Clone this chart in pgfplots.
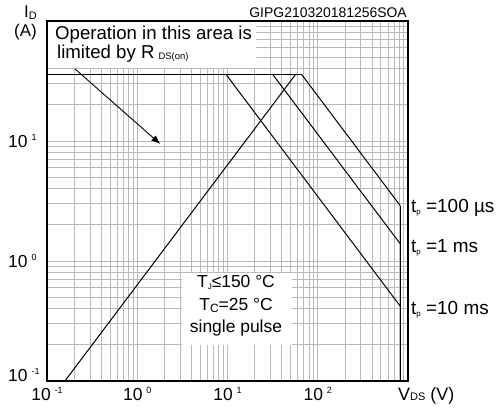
\documentclass[border=0pt]{standalone}
\usepackage{fontspec}
\setmainfont{Liberation Sans}
\usepackage{pgfplots}
\pgfplotsset{compat=1.18}
\usetikzlibrary{arrows.meta}
\newcommand{\fs}[1]{\fontsize{#1}{#1}\selectfont}
\newcommand{\tl}[1]{{\fs{17.5}10}\hspace{4bp}\raisebox{6.5bp}{\fs{9}#1}}
\begin{document}
\begin{tikzpicture}
\useasboundingbox (0,0) rectangle (498bp,408bp);
\begin{axis}[
  at={(47bp,27bp)}, anchor=south west,
  scale only axis, width=361bp, height=360bp,
  xmode=log, ymode=log,
  xmin=0.1, xmax=1000, ymin=0.1, ymax=100,
  xtick={0.1,1,10,100},
  xticklabels={\tl{-1},\tl{0},\tl{1},\tl{2}},
  ytick={0.1,1,10},
  yticklabels={\raisebox{6bp}{\tl{-1}},\tl{0},\tl{1}},
  minor xtick={0.2,0.3,0.4,0.5,0.6,0.7,0.8,0.9,2,3,4,5,6,7,8,9,20,30,40,50,60,70,80,90,200,300,400,500,600,700,800,900},
  minor ytick={0.2,0.3,0.4,0.5,0.6,0.7,0.8,0.9,2,3,4,5,6,7,8,9,20,30,40,50,60,70,80,90},
  grid=both,
  major grid style={color=black!27, line width=0.8bp},
  minor grid style={color=black!27, line width=0.8bp},
  major tick length=0pt, minor tick length=0pt,
  axis line style={line width=1.2bp},
  xticklabel style={anchor=base, inner sep=0pt, yshift=-19bp},
  yticklabel style={anchor=base west, inner sep=0pt, xshift=-39bp, yshift=-6bp},
]
\fill[white] (axis cs:0.1,40.6) rectangle (axis cs:20.5,100);
\fill[white] (axis cs:3.16,0.1995) rectangle (axis cs:51.4,0.794);
% current limit
\addplot[black, line width=1.4bp] coordinates {(0.1,36) (66,36)};
% tp = 100 us
\addplot[black, line width=1bp] coordinates {(66,36) (821,2.89)};
% tp = 1 ms
\addplot[black, line width=1bp] coordinates {(31.6,36) (821,1.39)};
% tp = 10 ms
\addplot[black, line width=1bp] coordinates {(9.6,36) (821,0.42)};
% voltage limit
\addplot[black, line width=1.4bp] coordinates {(821,2.89) (821,0.1)};
% RDS(on) limit
\addplot[black, line width=1bp] coordinates {(0.158,0.1) (57,36)};
\draw[black, line width=0.9bp, -{Latex[length=9bp,width=7bp]}] (axis cs:0.205,39.8) -- (axis cs:1.80,9.44);
\end{axis}
\draw[black, line width=1.2bp] (47bp,27bp) rectangle (408bp,387bp);
% texts
\node[anchor=base west, inner sep=0pt] at (55bp,368bp) {\fs{18.7}Operation in this area is};
\node[anchor=base west, inner sep=0pt] at (57bp,349bp) {\fs{18.7}limited by R\hspace{4bp}\raisebox{-1bp}{\fs{9.5}DS(on)}};
\node[anchor=base east, inner sep=0pt] at (407bp,390bp) {\fs{14}GIPG210320181256SOA};
\node[anchor=base west, inner sep=0pt] at (24bp,390bp) {\fs{17}I\raisebox{-2bp}{\fs{11}D}};
\node[anchor=base west, inner sep=0pt] at (14bp,371bp) {\fs{17}(A)};
\node[anchor=base west, inner sep=0pt] at (398bp,8bp) {\fs{18}V\raisebox{-0.5bp}{\fs{11}DS} (V)};
\node[anchor=base west, inner sep=0pt] at (411bp,195bp) {\fs{19}t\raisebox{-2bp}{\fs{8}p} =100 µs};
\node[anchor=base west, inner sep=0pt] at (411bp,155bp) {\fs{19}t\raisebox{-2bp}{\fs{8}p} =1 ms};
\node[anchor=base west, inner sep=0pt] at (411bp,93bp) {\fs{19}t\raisebox{-2bp}{\fs{8}p} =10 ms};
\node[anchor=base, inner sep=0pt] at (236bp,120bp) {\fs{17.5}T\raisebox{-2bp}{\fs{8}J}≤150 °C};
\node[anchor=base, inner sep=0pt] at (236bp,97bp) {\fs{17.5}T\raisebox{-2bp}{\fs{12}C}=25 °C};
\node[anchor=base, inner sep=0pt] at (236bp,75bp) {\fs{17.5}single pulse};
\end{tikzpicture}
\end{document}
